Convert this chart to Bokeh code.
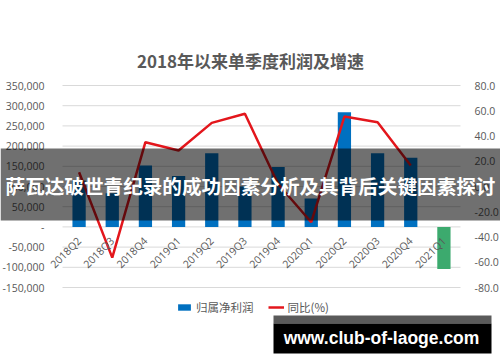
import math
import numpy as np
from bokeh.plotting import figure
from bokeh.models import (Range1d, LinearAxis, FixedTicker, NumeralTickFormatter,
                          ColumnDataSource, Legend, LegendItem, Label, BoxAnnotation)
from bokeh.embed import file_html
from bokeh.resources import INLINE

# ---- data ----
categories = ["2018Q2", "2018Q3", "2018Q4", "2019Q1", "2019Q2", "2019Q3",
              "2019Q4", "2020Q1", "2020Q2", "2020Q3", "2020Q4", "2021Q1"]
profit = [115000, 83000, 152000, 126000, 182000, 100000,
          148000, 70000, 284000, 182000, 171000, -104000]
yoy = [11.3, -56.3, 35.1, 28.5, 50.4, 57.6,
       2.0, -28.3, 55.4, 50.9, 16.6, np.nan]
left_ticks = list(range(-150000, 350001, 50000))
right_ticks = list(range(-80, 81, 20))

title_text = "2018年以来单季度利润及增速"
banner_text = "萨瓦达破世青纪录的成功因素分析及其背后关键因素探讨"
watermark_text = "www.club-of-laoge.com"
legend_labels = ["归属净利润", "同比(%)"]

# ---- layout (canvas px) ----
W, H = 500, 362
PL, PR = 62, 460               # plot band left / right
Y_TOP_PX, Y_BOT_PX = 85, 287   # rows of 350,000 / -150,000 (and 80 / -80)

n = len(categories)
xpos = list(range(n))
band_lo, band_hi = -0.5, n - 0.5
ppx = (PR - PL) / n
x_range = Range1d(band_lo - PL / ppx, band_hi + (W - PR) / ppx)

lmax, lmin = left_ticks[-1], left_ticks[0]
ppu_l = (Y_BOT_PX - Y_TOP_PX) / (lmax - lmin)
left_range = Range1d(lmin - (H - Y_BOT_PX) / ppu_l, lmax + Y_TOP_PX / ppu_l)
rmax, rmin = right_ticks[-1], right_ticks[0]
ppu_r = (Y_BOT_PX - Y_TOP_PX) / (rmax - rmin)
right_range = Range1d(rmin - (H - Y_BOT_PX) / ppu_r, rmax + Y_TOP_PX / ppu_r)

TXT = "#595959"
NUMFONT = "Open Sans"
CJK = "Noto Sans CJK SC"

p = figure(width=W, height=H, x_range=x_range, y_range=left_range,
           output_backend="svg", toolbar_location=None, title=None,
           min_border=0, min_border_left=0, min_border_right=0,
           min_border_top=0, min_border_bottom=0)
p.extra_y_ranges = {"right": right_range}
p.outline_line_color = None
p.background_fill_color = "white"
p.border_fill_color = "white"
p.xgrid.visible = False
p.ygrid.visible = False


def style_axis(ax, standoff):
    ax.axis_line_color = None
    ax.major_tick_line_color = None
    ax.minor_tick_line_color = None
    ax.major_label_standoff = standoff
    ax.major_label_text_font_size = "10.5px"
    ax.major_label_text_color = TXT
    ax.major_label_text_font = NUMFONT


# left axis
ya = p.yaxis[0]
ya.fixed_location = band_lo
ya.ticker = FixedTicker(ticks=left_ticks)
ya.formatter = NumeralTickFormatter(format="0,0")
ya.major_label_overrides = {0: "-"}
style_axis(ya, 12)

# right axis
ra = LinearAxis(y_range_name="right", ticker=FixedTicker(ticks=right_ticks),
                formatter=NumeralTickFormatter(format="0.0"), fixed_location=band_hi)
style_axis(ra, 8)
p.add_layout(ra, "right")

# category axis at zero
xa = p.xaxis[0]
xa.fixed_location = 0
xa.ticker = FixedTicker(ticks=xpos)
xa.major_label_overrides = {i: c for i, c in enumerate(categories)}
xa.major_label_orientation = math.pi / 4
style_axis(xa, 6)

# horizontal gridlines across the category band
p.segment(x0=[band_lo] * len(left_ticks), x1=[band_hi] * len(left_ticks),
          y0=left_ticks, y1=left_ticks, line_color="#D9D9D9", line_width=1, level="underlay")

# bars + line
colors = ["#0070C0" if v >= 0 else "#3CAA6E" for v in profit]
src = ColumnDataSource(dict(x=xpos, top=profit, color=colors, yoy=yoy))
bars = p.vbar(x="x", top="top", bottom=0, width=0.4, fill_color="color", line_color=None, source=src)
line = p.line(x="x", y="yoy", y_range_name="right", line_color="#E3161C", line_width=2.5, source=src)

legend = Legend(items=[LegendItem(label=legend_labels[0], renderers=[bars], index=0),
                       LegendItem(label=legend_labels[1], renderers=[line])],
                orientation="horizontal", location=(176, 47),
                glyph_width=16, glyph_height=8, label_standoff=4, spacing=14,
                padding=0, margin=0, border_line_color=None, background_fill_alpha=0,
                label_text_font_size="11.5px", label_text_color=TXT, label_text_font=CJK,
                label_height=14)
p.add_layout(legend, "center")

# title
p.add_layout(Label(x=250, y=H - 60, x_units="screen", y_units="screen", text=title_text,
                   text_align="center", text_baseline="middle", text_font_size="17px",
                   text_font_style="bold", text_color=TXT, text_font=CJK))

# overlay banner
p.add_layout(BoxAnnotation(left=0, right=W, top=148, bottom=220,
                           left_units="canvas", right_units="canvas", top_units="canvas", bottom_units="canvas",
                           fill_color="black", fill_alpha=0.56, line_color=None))
p.add_layout(Label(x=250, y=H - 185, x_units="screen", y_units="screen", text=banner_text,
                   text_align="center", text_baseline="middle", text_font_size="19.6px",
                   text_font_style="bold", text_color="white", text_font=CJK))

# watermark
p.add_layout(BoxAnnotation(left=273, right=491, top=315, bottom=323,
                           left_units="canvas", right_units="canvas", top_units="canvas", bottom_units="canvas",
                           fill_color="#5A5A5A", fill_alpha=1, line_color=None))
p.add_layout(BoxAnnotation(left=273, right=491, top=323, bottom=353,
                           left_units="canvas", right_units="canvas", top_units="canvas", bottom_units="canvas",
                           fill_color="black", fill_alpha=1, line_color=None))
p.add_layout(Label(x=381, y=H - 337, x_units="screen", y_units="screen", text=watermark_text,
                   text_align="center", text_baseline="middle", text_font_size="17.5px",
                   text_font_style="bold", text_color="white", text_font="Liberation Sans"))

open("out.html", "w").write(file_html(p, INLINE))
